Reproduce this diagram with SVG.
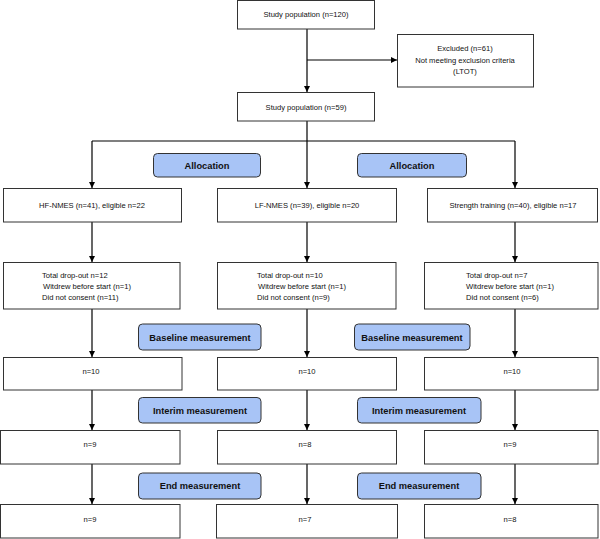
<svg xmlns="http://www.w3.org/2000/svg" width="600" height="539" viewBox="0 0 600 539">
<style>
.box{fill:#fff;stroke:#333;stroke-width:1}
.lab{fill:#a8c4f6;stroke:#333;stroke-width:1}
.t{font-family:"Liberation Sans",Arial,sans-serif;font-size:7.6px;fill:#111;text-anchor:middle}
.tl{font-family:"Liberation Sans",Arial,sans-serif;font-size:7.6px;fill:#111}
.b{font-family:"Liberation Sans",Arial,sans-serif;font-size:9.3px;font-weight:bold;fill:#111;text-anchor:middle}
.c{stroke:#000;stroke-width:1.2;fill:none}
</style>
<defs>
<marker id="ah" viewBox="0 0 10 10" refX="10" refY="5" markerWidth="6" markerHeight="6" orient="auto" markerUnits="userSpaceOnUse">
<path d="M0,0 L10,5 L0,10 z" fill="#000"/>
</marker>
</defs>
<g id="connectors">
<path class="c" d="M307,29 V92" marker-end="url(#ah)"/>
<path class="c" d="M307,60 H397" marker-end="url(#ah)"/>
<path class="c" d="M307,121 V188" marker-end="url(#ah)"/>
<path class="c" d="M92,141 H515"/>
<path class="c" d="M92,141 V188" marker-end="url(#ah)"/>
<path class="c" d="M515,141 V188" marker-end="url(#ah)"/>
<path class="c" d="M92,222 V262" marker-end="url(#ah)"/>
<path class="c" d="M307,222 V262" marker-end="url(#ah)"/>
<path class="c" d="M515,222 V262" marker-end="url(#ah)"/>
<path class="c" d="M92,309 V357" marker-end="url(#ah)"/>
<path class="c" d="M307,309 V357" marker-end="url(#ah)"/>
<path class="c" d="M515,309 V357" marker-end="url(#ah)"/>
<path class="c" d="M92,390 V430" marker-end="url(#ah)"/>
<path class="c" d="M307,390 V430" marker-end="url(#ah)"/>
<path class="c" d="M515,390 V430" marker-end="url(#ah)"/>
<path class="c" d="M92,464 V504" marker-end="url(#ah)"/>
<path class="c" d="M307,464 V504" marker-end="url(#ah)"/>
<path class="c" d="M515,464 V504" marker-end="url(#ah)"/>
</g>
<g id="study120"><rect class="box" x="237.5" y="0.5" width="137" height="28.5"/><text class="t" x="306" y="17">Study population (n=120)</text></g>
<g id="excluded"><rect class="box" x="397.5" y="34.5" width="136" height="52.5"/>
<text class="t" x="465" y="51">Excluded (n=61)</text>
<text class="t" x="465" y="62.5">Not meeting exclusion criteria</text>
<text class="t" x="465" y="74">(LTOT)</text></g>
<g id="study59"><rect class="box" x="237.5" y="92.5" width="137" height="28.5"/><text class="t" x="306" y="109.5">Study population (n=59)</text></g>
<g id="alloc1"><rect class="lab" x="153.5" y="153.5" width="107" height="23.5" rx="4"/><text class="b" x="207" y="168.5">Allocation</text></g>
<g id="alloc2"><rect class="lab" x="357.5" y="153.5" width="109" height="23.5" rx="4"/><text class="b" x="412" y="168.5">Allocation</text></g>
<g id="hf"><rect class="box" x="3.5" y="188.5" width="178" height="33.5"/><text class="t" x="92" y="208">HF-NMES (n=41), eligible n=22</text></g>
<g id="lf"><rect class="box" x="217.5" y="188.5" width="179" height="33.5"/><text class="t" x="307" y="208">LF-NMES (n=39), eligible n=20</text></g>
<g id="st"><rect class="box" x="427.5" y="188.5" width="170" height="33.5"/><text class="t" x="513" y="208">Strength training (n=40), eligible n=17</text></g>
<g id="hfdrop"><rect class="box" x="3.5" y="262.5" width="176.5" height="46.5"/>
<text class="tl" x="42" y="278">Total drop-out n=12</text>
<text class="tl" x="43" y="289">Witdrew before start (n=1)</text>
<text class="tl" x="42" y="300">Did not consent (n=11)</text></g>
<g id="lfdrop"><rect class="box" x="217.5" y="262.5" width="178.5" height="46.5"/>
<text class="tl" x="257" y="278">Total drop-out n=10</text>
<text class="tl" x="258" y="289">Witdrew before start (n=1)</text>
<text class="tl" x="257" y="300">Did not consent (n=9)</text></g>
<g id="stdrop"><rect class="box" x="424.5" y="262.5" width="173.5" height="46.5"/>
<text class="tl" x="466" y="278">Total drop-out n=7</text>
<text class="tl" x="466" y="289">Witdrew before start (n=1)</text>
<text class="tl" x="466" y="300">Did not consent (n=6)</text></g>
<g id="base1"><rect class="lab" x="138.5" y="324" width="122.5" height="26" rx="4"/><text class="b" x="200" y="340.5">Baseline measurement</text></g>
<g id="base2"><rect class="lab" x="354.5" y="324" width="115.5" height="26" rx="4"/><text class="b" x="412" y="340.5">Baseline measurement</text></g>
<g id="hf10"><rect class="box" x="3.5" y="357.5" width="178.5" height="32.5"/><text class="t" x="91" y="374">n=10</text></g>
<g id="lf10"><rect class="box" x="217.5" y="357.5" width="179" height="32.5"/><text class="t" x="307" y="374">n=10</text></g>
<g id="st10"><rect class="box" x="424.5" y="357.5" width="173.5" height="32.5"/><text class="t" x="512" y="374">n=10</text></g>
<g id="int1"><rect class="lab" x="138.5" y="397.5" width="122.5" height="25.5" rx="4"/><text class="b" x="200" y="413.5">Interim measurement</text></g>
<g id="int2"><rect class="lab" x="357.5" y="397.5" width="123.5" height="25.5" rx="4"/><text class="b" x="419" y="413.5">Interim measurement</text></g>
<g id="hf9"><rect class="box" x="0.5" y="430.5" width="179.5" height="33.5"/><text class="t" x="90" y="447">n=9</text></g>
<g id="lf8"><rect class="box" x="217.5" y="430.5" width="179" height="33.5"/><text class="t" x="305" y="447">n=8</text></g>
<g id="st9"><rect class="box" x="424.5" y="430.5" width="173.5" height="33.5"/><text class="t" x="510" y="447">n=9</text></g>
<g id="end1"><rect class="lab" x="138.5" y="473" width="122.5" height="26" rx="4"/><text class="b" x="200" y="489">End measurement</text></g>
<g id="end2"><rect class="lab" x="357.5" y="473" width="123.5" height="26" rx="4"/><text class="b" x="419" y="489">End measurement</text></g>
<g id="hf9e"><rect class="box" x="0.5" y="504.5" width="179.5" height="33.5"/><text class="t" x="90" y="521.5">n=9</text></g>
<g id="lf7"><rect class="box" x="216.5" y="504.5" width="181" height="33.5"/><text class="t" x="305" y="521.5">n=7</text></g>
<g id="st8"><rect class="box" x="424.5" y="504.5" width="173.5" height="33.5"/><text class="t" x="510" y="521.5">n=8</text></g>
</svg>
